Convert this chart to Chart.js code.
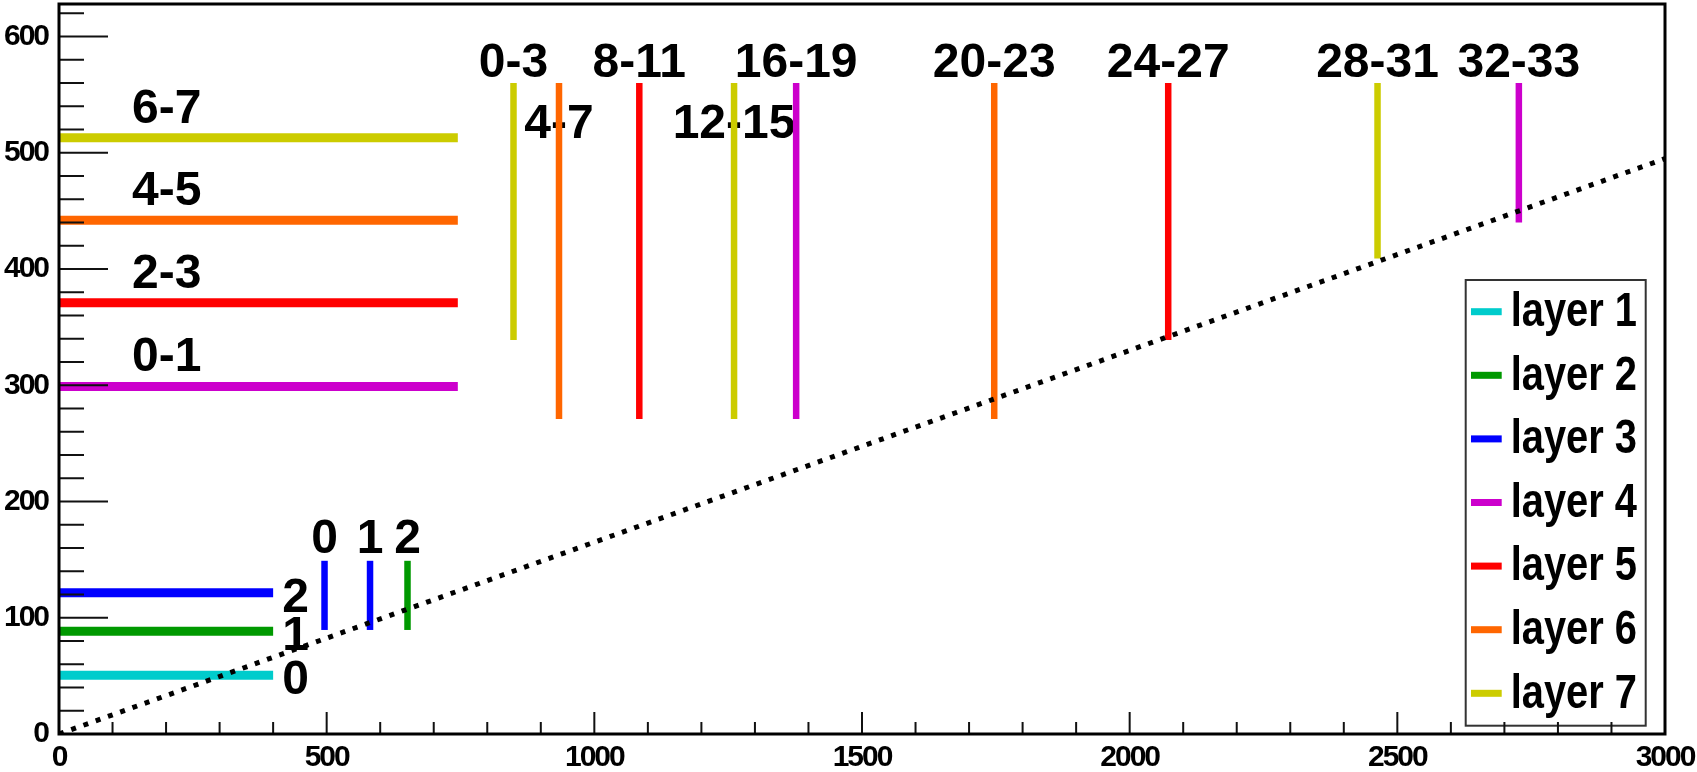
<!DOCTYPE html>
<html><head><meta charset="utf-8">
<script src="https://cdn.jsdelivr.net/npm/chart.js@4.4.1/dist/chart.umd.min.js"></script>
<style>html,body{margin:0;padding:0;background:#fff;overflow:hidden}canvas{display:block}</style>
</head><body>
<canvas id="c" width="1697" height="772"></canvas>
<script>
// ---------- data ----------
const layerNames = ['layer 1','layer 2','layer 3','layer 4','layer 5','layer 6','layer 7'];
const layerColors = ['#00cccc','#009900','#0000ff','#cc00cc','#ff0000','#ff6600','#cccc00'];

// horizontal segments (from x=0 to hXEnd at height hY)
const hLabels = ['0','1','2','0-1','2-3','4-5','6-7'];
const hLayers = [1,2,3,4,5,6,7];
const hY = [50.5,88.5,121.5,299,371,442,513];
const hXEnd = [400,400,400,745,745,745,745];

// vertical segments (at vX from vYLow to vYHigh)
const vLabels = ['0','1','2','0-3','4-7','8-11','12-15','16-19','20-23','24-27','28-31','32-33'];
const vLayers = [3,3,2,7,6,5,7,4,6,5,7,4];
const vX = [496,581,651,849,934,1084,1261,1377,1747,2072,2463,2727];
const vYLow = [89.5,89.5,89.5,339,271,271,271,271,271,339,409,440];
const vYHigh = [149,149,149,560,560,560,560,560,560,560,560,560];

// dotted diagonal
const diagX = [0,3000];
const diagY = [0,495];

// axes
const xTickValues = [0,500,1000,1500,2000,2500,3000];
const xTickLabels = ['0','500','1000','1500','2000','2500','3000'];
const yTickValues = [0,100,200,300,400,500,600];
const yTickLabels = ['0','100','200','300','400','500','600'];

// ---------- styles / layout ----------
const BOLD = '"Liberation Sans", Arial, sans-serif';
const hLabelSide = ['end','end','end','above','above','above','above'];
const vLabelRow = ['low','low','low','top','second','top','second','top','top','top','top','top'];

const datasets = [];
datasets.push({
  label: 'diag', data: diagX.map((v,i)=>({x:v,y:diagY[i]})),
  borderColor:'#000', borderWidth:5, borderDash:[5,8], pointRadius:0, order:0
});
hY.forEach((yv,i)=>{
  datasets.push({label: hLabels[i], data:[{x:0,y:yv},{x:hXEnd[i],y:yv}],
    borderColor: layerColors[hLayers[i]-1], borderWidth:9, borderCapStyle:'butt', pointRadius:0, order:1});
});
vX.forEach((xv,i)=>{
  datasets.push({label: vLabels[i], data:[{x:xv,y:vYLow[i]},{x:xv,y:vYHigh[i]}],
    borderColor: layerColors[vLayers[i]-1], borderWidth:6.5, borderCapStyle:'butt', pointRadius:0, order:1});
});

const condensePlugin = {
  id:'condense',
  beforeDraw(chart){ chart.ctx.letterSpacing = '-2px'; },
  afterDraw(chart){ chart.ctx.letterSpacing = '0px'; }
};

const labelPlugin = {
  id:'labels',
  beforeDatasetsDraw(chart){
    const {ctx, scales:{x,y}} = chart;
    ctx.save();
    ctx.letterSpacing = '0px';
    ctx.fillStyle='#000';
    ctx.font = 'bold 48px ' + BOLD;
    ctx.textBaseline='alphabetic';
    hLabels.forEach((t,i)=>{
      const py = y.getPixelForValue(hY[i]);
      ctx.textAlign='left';
      if (hLabelSide[i]==='end') ctx.fillText(t, x.getPixelForValue(hXEnd[i])+9, py+19);
      else ctx.fillText(t, x.getPixelForValue(0)+73, py-15);
    });
    vLabels.forEach((t,i)=>{
      const px = x.getPixelForValue(vX[i]);
      const top = y.getPixelForValue(vYHigh[i]);
      ctx.textAlign='center';
      let by = top-6;
      if (vLabelRow[i]==='second') by = top+54.5;
      if (vLabelRow[i]==='low') by = top-8;
      ctx.fillText(t, px, by);
    });
    ctx.restore();
  }
};

const legendPlugin = {
  id:'rootLegend',
  afterDatasetsDraw(chart){
    const {ctx, chartArea:a} = chart;
    const bx = a.right-199.3, by = a.top+276, bw=180, bh=445.7;
    ctx.save();
    ctx.letterSpacing = '0px';
    ctx.fillStyle='#fff'; ctx.fillRect(bx,by,bw,bh);
    ctx.strokeStyle='#333'; ctx.lineWidth=2; ctx.strokeRect(bx,by,bw,bh);
    ctx.font = 'bold 48px ' + BOLD;
    ctx.textBaseline='middle'; ctx.textAlign='left';
    layerNames.forEach((n,i)=>{
      const cy = by+31.7+i*63.6;
      ctx.fillStyle = layerColors[i];
      ctx.fillRect(bx+5.3, cy-3.5, 30.7, 7);
      ctx.fillStyle='#000';
      ctx.save();
      ctx.translate(bx+45, cy+1);
      ctx.scale(0.83, 1);
      ctx.fillText(n, 0, 0);
      ctx.restore();
    });
    ctx.restore();
  }
};

const framePlugin = {
  id:'frame',
  afterDraw(chart){
    const {ctx, chartArea:a, scales:{x,y}} = chart;
    ctx.save();
    ctx.strokeStyle='#111'; ctx.lineWidth=2;
    ctx.beginPath();
    for (let v=x.min; v<=x.max+1e-6; v+=100){
      const px = x.getPixelForValue(v);
      const major = x.ticks.some(t=>t.value===v);
      ctx.moveTo(px, a.bottom); ctx.lineTo(px, a.bottom-(major?22:12));
    }
    for (let v=y.min; v<=y.max+1e-6; v+=20){
      const py = y.getPixelForValue(v);
      const major = y.ticks.some(t=>t.value===v);
      ctx.moveTo(a.left, py); ctx.lineTo(a.left+(major?49:25), py);
    }
    ctx.stroke();
    ctx.strokeStyle='#000'; ctx.lineWidth=3;
    ctx.strokeRect(a.left, a.top, a.right-a.left, a.bottom-a.top);
    ctx.restore();
  }
};

new Chart(document.getElementById('c'), {
  type:'line',
  data:{datasets},
  options:{
    responsive:false, animation:false, devicePixelRatio:1,
    layout:{padding:{top:4,right:32,left:0,bottom:0}},
    plugins:{legend:{display:false}, tooltip:{enabled:false}},
    elements:{line:{tension:0}},
    scales:{
      x:{type:'linear', position:'bottom', min:0, max:3000,
        grid:{display:false, drawTicks:false}, border:{display:false},
        ticks:{stepSize:500, autoSkip:false, maxRotation:0, padding:6, color:'#000',
          font:{family:BOLD, size:30, weight:'bold'},
          callback:(v)=>{const i=xTickValues.indexOf(v); return i>=0?xTickLabels[i]:'';}},
        afterFit:(s)=>{s.height=38; s.paddingLeft=0; s.paddingRight=0;}},
      y:{type:'linear', min:0, max:628,
        grid:{display:false, drawTicks:false}, border:{display:false},
        ticks:{stepSize:100, autoSkip:false, padding:11, color:'#000', includeBounds:false,
          font:{family:BOLD, size:30, weight:'bold'},
          callback:(v)=>{const i=yTickValues.indexOf(v); return i>=0?yTickLabels[i]:'';}},
        afterFit:(s)=>{s.width=59; s.paddingTop=0; s.paddingBottom=0;}}
    }
  },
  plugins:[condensePlugin, labelPlugin, legendPlugin, framePlugin]
});
</script>
</body></html>
